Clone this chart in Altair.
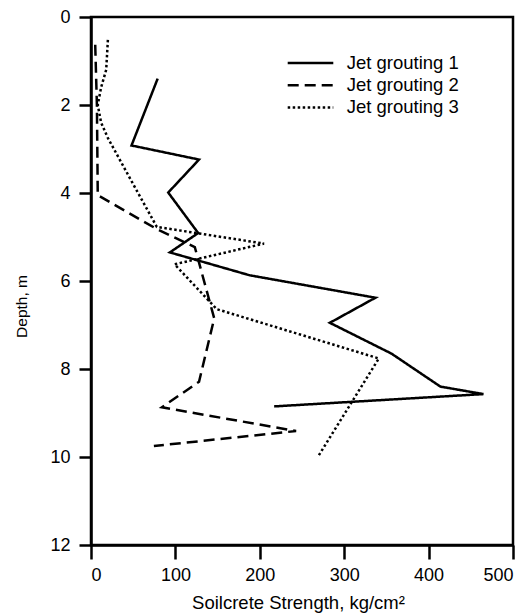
import altair as alt
import pandas as pd

series_names = ["Jet grouting 1", "Jet grouting 2", "Jet grouting 3"]

jg1_strength = [79, 48, 128, 91.5, 127, 93.5, 188, 337, 283, 356, 414, 465, 217]
jg1_depth = [1.40, 2.92, 3.24, 3.99, 4.91, 5.35, 5.87, 6.38, 6.95, 7.65, 8.40, 8.57, 8.85]

jg2_strength = [5, 7, 8, 78, 123, 146, 128, 84, 243, 74.5]
jg2_depth = [0.63, 2.0, 4.05, 4.82, 5.23, 6.85, 8.29, 8.87, 9.41, 9.75]

jg3_strength = [20, 18, 12, 8, 12, 20, 50, 78, 205, 99, 149, 341, 270]
jg3_depth = [0.52, 1.2, 1.6, 2.0, 2.4, 2.75, 3.8, 4.77, 5.15, 5.62, 6.64, 7.76, 9.96]

x_ticks = [0, 100, 200, 300, 400, 500]
y_ticks = [0, 2, 4, 6, 8, 10, 12]

rows = []
for name, xs, ys in zip(series_names,
                        [jg1_strength, jg2_strength, jg3_strength],
                        [jg1_depth, jg2_depth, jg3_depth]):
    for i, (x, y) in enumerate(zip(xs, ys)):
        rows.append({"series": name, "strength": x, "depth": y, "idx": i})
df = pd.DataFrame(rows)

FONT = "Liberation Sans"
dash_scale = alt.Scale(domain=series_names, range=[[1, 0], [11, 6], [2.5, 2.5]])

lines = alt.Chart(df).mark_line(strokeWidth=2.5, color="black", strokeCap="butt").encode(
    x=alt.X("strength:Q",
            scale=alt.Scale(domain=[0, 500], nice=False, zero=False),
            axis=alt.Axis(values=x_ticks, title="Soilcrete Strength, kg/cm²",
                          tickSize=14, labelPadding=7, labelFontSize=18,
                          titleFontSize=18.5, titleFontWeight="normal",
                          titleX=207, titleY=57, titleBaseline="middle",
                          titleAnchor="middle", titleAlign="center")),
    y=alt.Y("depth:Q",
            scale=alt.Scale(domain=[0, 12], reverse=True, nice=False, zero=False),
            axis=alt.Axis(values=y_ticks, title="Depth, m",
                          tickSize=12, labelPadding=9, labelFontSize=18,
                          titleFontSize=15.5, titleFontWeight="normal",
                          titleX=-70, titleY=289, titleAngle=-90,
                          titleBaseline="middle", titleAlign="center")),
    strokeDash=alt.StrokeDash("series:N", scale=dash_scale, legend=None),
    order="idx:Q",
    detail="series:N",
)

# hand-built legend (symbol + label per series)
legend_layers = []
for i, name in enumerate(series_names):
    ldf = pd.DataFrame({"series": [name]})
    row_y = 46 + 22.2 * i
    sym = alt.Chart(ldf).mark_rule(strokeWidth=2.5, color="black", strokeCap="butt").encode(
        x=alt.value(196.7), x2=alt.value(242.3), y=alt.value(row_y),
        strokeDash=alt.StrokeDash("series:N", scale=dash_scale, legend=None),
    )
    lab = alt.Chart(ldf).mark_text(align="left", baseline="middle", fontSize=18.5,
                                   font=FONT, color="black").encode(
        x=alt.value(255.7), y=alt.value(row_y), text="series:N"
    )
    legend_layers += [sym, lab]

chart = alt.layer(lines, *legend_layers).properties(
    width=422, height=528,
    autosize="none",
    padding={"left": 83, "top": 9, "right": 10, "bottom": 70},
).configure_view(
    stroke="black", strokeWidth=2.5
).configure_axis(
    grid=False, domainColor="black", domainWidth=2.5, tickColor="black",
    tickWidth=2.5, labelColor="black", titleColor="black",
    labelFont=FONT, titleFont=FONT
)

chart.save("out.html", embed_options={"renderer": "svg", "actions": False})
